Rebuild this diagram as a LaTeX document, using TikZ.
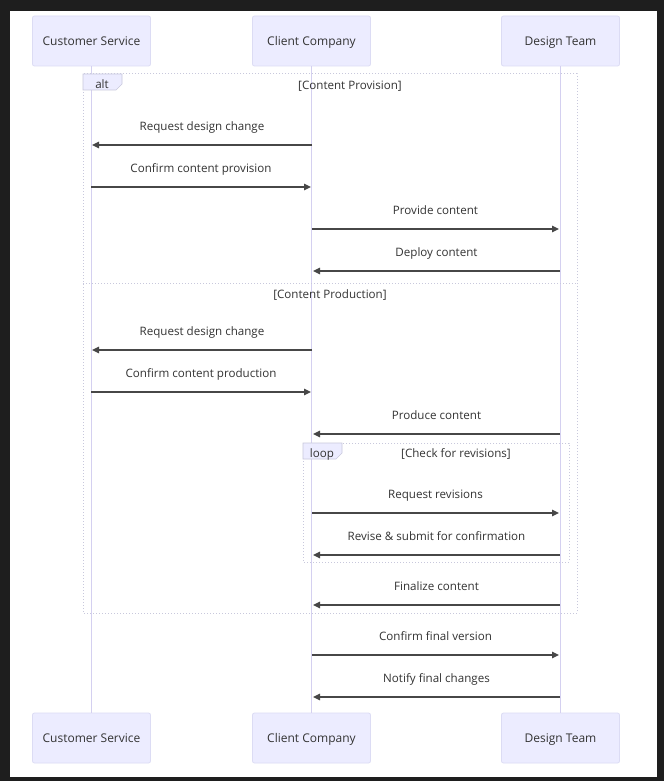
\documentclass[tikz,border=0pt]{standalone}
\usepackage{fontspec}
\setmainfont{Open Sans}
\usetikzlibrary{arrows.meta}
\definecolor{frame}{HTML}{1E1E1E}
\definecolor{actfill}{HTML}{ECECFF}
\definecolor{actline}{HTML}{DCDCF4}
\definecolor{life}{HTML}{D4D0F0}
\definecolor{boxline}{HTML}{C8C8DC}
\definecolor{txt}{HTML}{333333}
\tikzset{
  actor/.style={draw=actline, fill=actfill, rounded corners=2pt, line width=0.8pt,
    minimum width=118pt, minimum height=50pt, inner sep=0pt, text=txt,
    font=\fontsize{12}{14}\selectfont},
  actortext/.style={text=txt, font=\fontsize{12}{14}\selectfont, inner sep=0pt,
    text height=8.5pt, text depth=2.5pt, yshift=-1.8pt},
  lifeline/.style={draw=life, line width=1.2pt},
  msg/.style={draw=txt!90, line width=1.3pt, -{Triangle[length=7pt,width=6.5pt]}},
  lbl/.style={text=txt, font=\fontsize{11.6}{13}\selectfont, inner sep=0pt,
    text height=8.5pt, text depth=2.5pt, yshift=-1.8pt},
  frag/.style={draw=boxline, dotted, line width=1pt},
  tab/.style={fill=actfill, draw=boxline, line width=0.6pt},
}
\newcommand\mymsg[5]{% name, x1, x2, y, label
  \coordinate (#1a) at (#2,#4);
  \coordinate (#1b) at (#3,#4);
  \draw[msg] (#1a) -- (#1b);
  \node[lbl] (#1l) at ({(#2+#3)/2},#4-19) {#5};
}
\begin{document}
\begin{tikzpicture}[x=1pt,y=-1pt]
\fill[frame] (0,0) rectangle (664,781);
\useasboundingbox (0,0) rectangle (664,781);
\fill[white] (10,11) rectangle (657,777);

% actors
\node[actor] (csT) at (91.5,41) {};
\node[actor] (ccT) at (311.5,41) {};
\node[actor] (dtT) at (560.5,41) {};
\node[actor] (csB) at (91.5,738) {};
\node[actor] (ccB) at (311.5,738) {};
\node[actor] (dtB) at (560.5,738) {};
\node[actortext] (csTt) at (csT.center) {Customer Service};
\node[actortext] (ccTt) at (ccT.center) {Client Company};
\node[actortext] (dtTt) at (dtT.center) {Design Team};
\node[actortext] (csBt) at (csB.center) {Customer Service};
\node[actortext] (ccBt) at (ccB.center) {Client Company};
\node[actortext] (dtBt) at (dtB.center) {Design Team};

\draw[lifeline] (csT.south) -- (csB.north);
\draw[lifeline] (ccT.south) -- (ccB.north);
\draw[lifeline] (dtT.south) -- (dtB.north);

% alt fragment
\draw[frag] (83,74) rectangle (577,613);
\draw[tab] (83,74) -- (122,74) -- (122,84) -- (116,90) -- (83,90) -- cycle;
\node[lbl] (altl) at (102,83.5) {alt};
\node[lbl] (altc1) at (350,84.5) {[Content Provision]};
\draw[frag] (83,283) -- (577,283);
\node[lbl] (altc2) at (330,293.5) {[Content Production]};

% loop fragment
\draw[frag] (303,443) rectangle (569,562);
\draw[tab] (303,443) -- (342,443) -- (342,453) -- (336,459) -- (303,459) -- cycle;
\node[lbl] (loopl) at (322,452.5) {loop};
\node[lbl] (loopc) at (456,452.5) {[Check for revisions]};

% messages
\mymsg{m1}{312}{92}{145}{Request design change}
\mymsg{m2}{91}{311}{187}{Confirm content provision}
\mymsg{m3}{312}{559}{229}{Provide content}
\mymsg{m4}{560}{313}{271}{Deploy content}
\mymsg{m5}{312}{92}{350}{Request design change}
\mymsg{m6}{91}{311}{392}{Confirm content production}
\mymsg{m7}{560}{313}{434}{Produce content}
\mymsg{m8}{312}{559}{513}{Request revisions}
\mymsg{m9}{560}{313}{555}{Revise \& submit for confirmation}
\mymsg{m10}{560}{313}{605}{Finalize content}
\mymsg{m11}{312}{559}{655}{Confirm final version}
\mymsg{m12}{560}{313}{697}{Notify final changes}
\end{tikzpicture}
\end{document}
